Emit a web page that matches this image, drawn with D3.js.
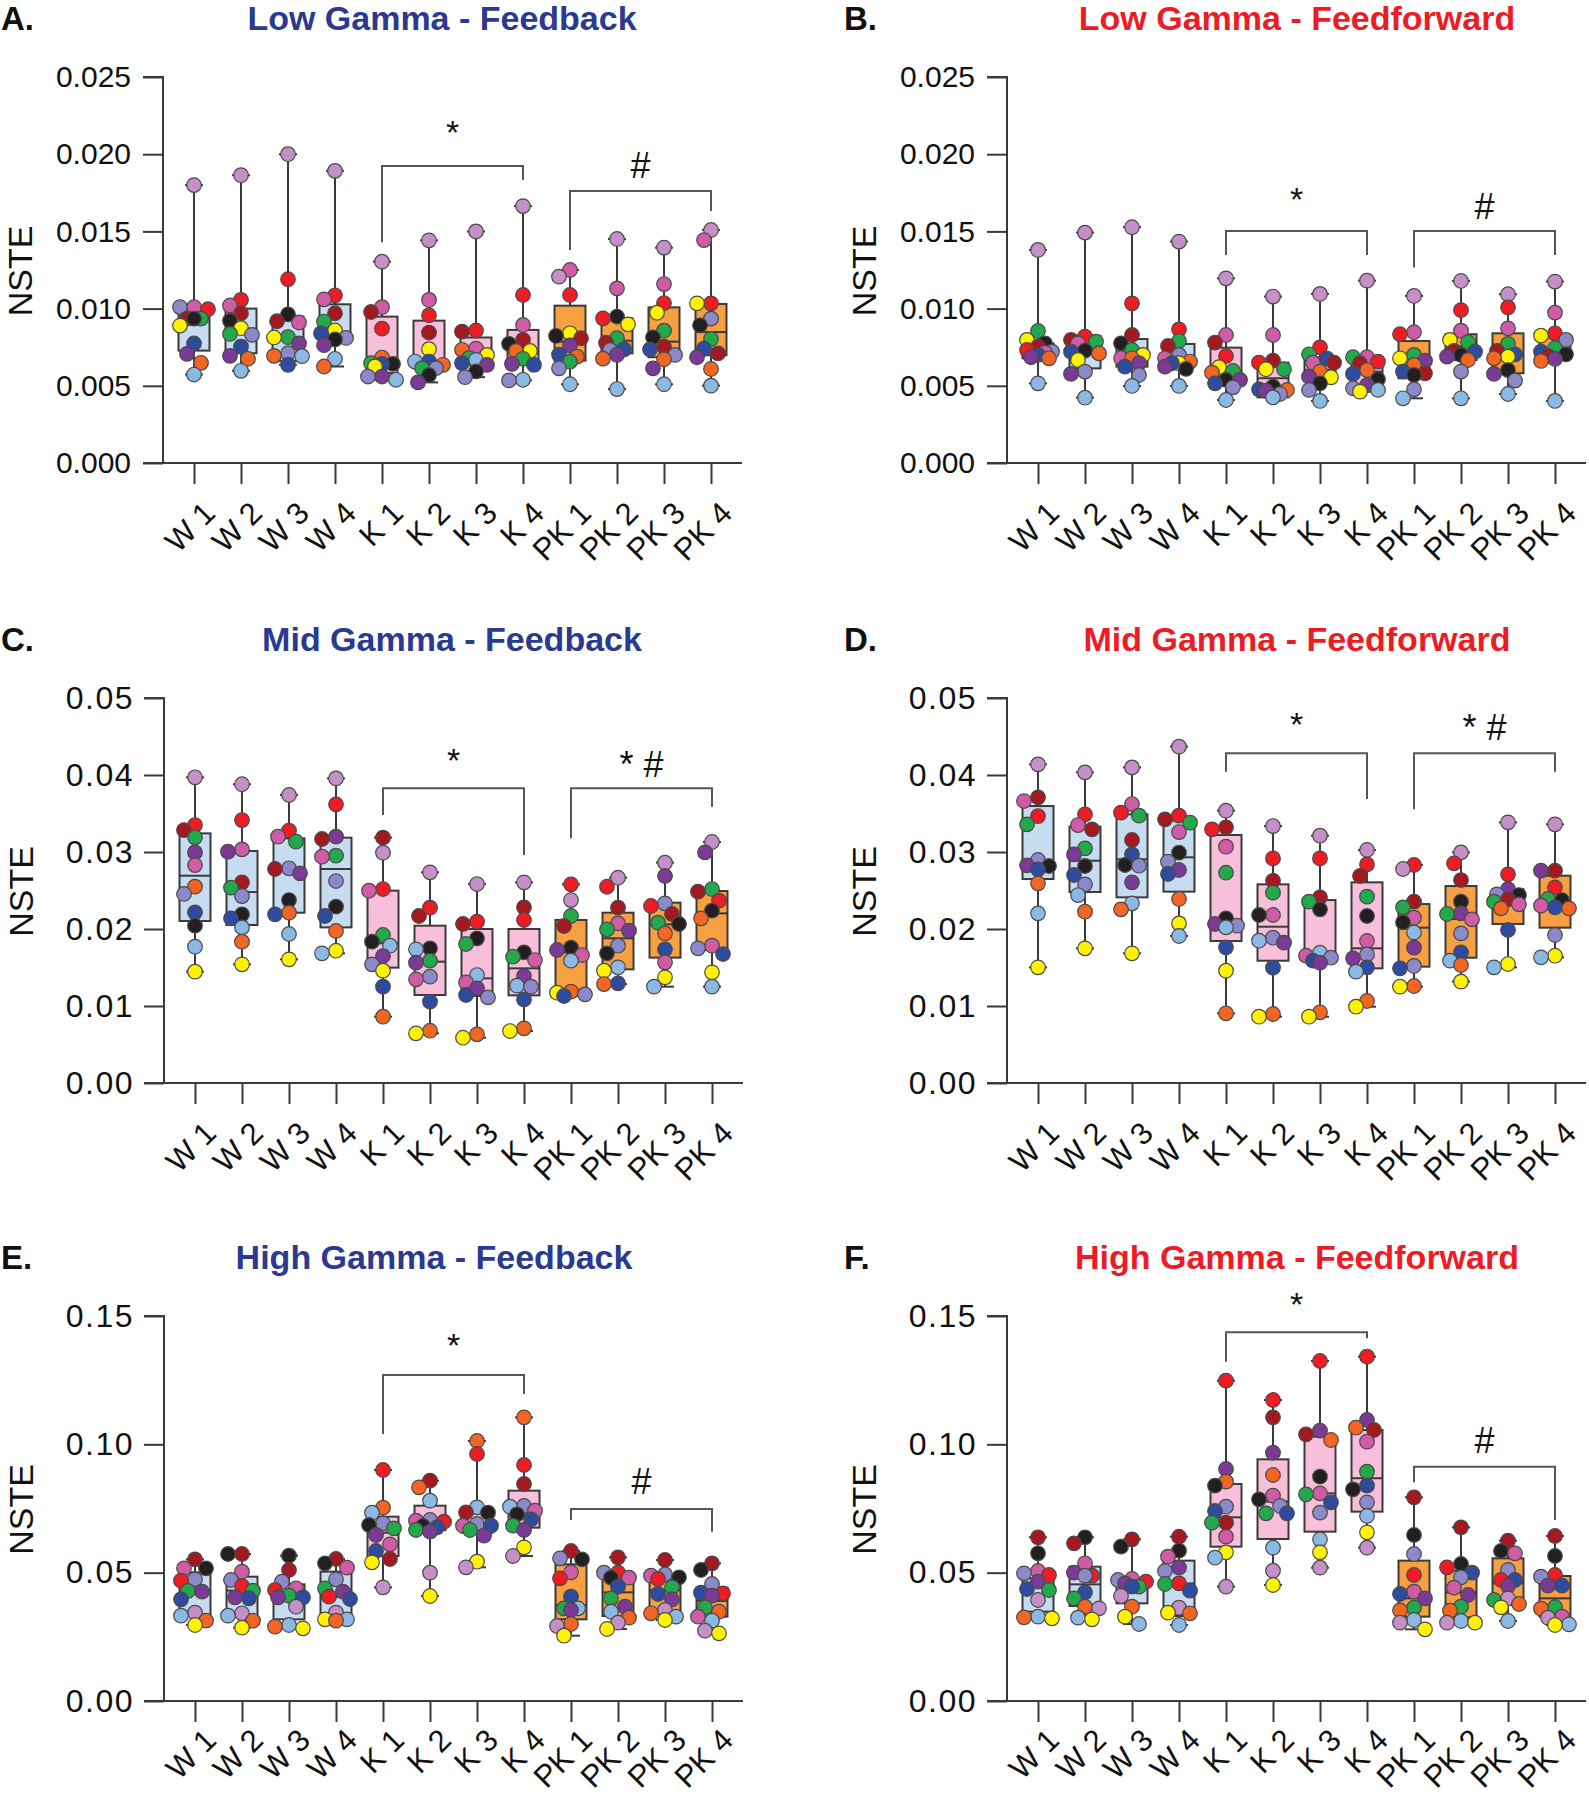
<!DOCTYPE html>
<html><head><meta charset="utf-8">
<script src="https://cdn.jsdelivr.net/npm/d3@7"></script>
<style>
html,body{margin:0;padding:0;background:#fff;}
svg{display:block;}
</style></head>
<body>
<svg id="c" width="1589" height="1800"></svg>
<script>
// ---------- data ----------
const groups = ["W 1","W 2","W 3","W 4","K 1","K 2","K 3","K 4","PK 1","PK 2","PK 3","PK 4"];
const subjects = ["lav","pink","red","dkred","green","yellow","black","dkblue","purple","orange","ltblue","peri"];
const subjectColors = ["#c590c8","#d15ca6","#ee1c25","#a3191f","#23a84b","#fff200","#231f20","#2e4b9f","#7b3a96","#f26522","#8cb9e4","#8b89c7"];
const groupFill = ["#c8dcf1","#c8dcf1","#c8dcf1","#c8dcf1","#f8bfdb","#f8bfdb","#f8bfdb","#f8bfdb","#f7a042","#f7a042","#f7a042","#f7a042"];

// values per group, subject order as in `subjects`
const lowFB = [
 [.0180,.0101,.00996,.00935,.00935,.0089,.00935,.00774,.00707,.00649,.00573,.0101],
 [.01864,.0102,.01056,.0097,.00836,.00873,.00922,.00754,.00694,.00675,.00597,.0083],
 [.0200,.0091,.0119,.00918,.00815,.00813,.00963,.00636,.00774,.00694,.00692,.00711],
 [.01892,.0106,.01086,.0097,.00916,.00858,.0080,.0084,.00763,.00625,.00675,.0081],
 [.01304,.01009,.0087,.00978,.00647,.00625,.00642,.00642,.0056,.00683,.00539,.0056],
 [.01442,.01056,.00957,.00845,.00614,.00737,.00569,.00657,.00522,.00636,.00657,.00614],
 [.0150,.00741,.00858,.00851,.00679,.0070,.00593,.00647,.00636,.00733,.00668,.00556],
 [.01664,.00894,.01088,.00797,.00675,.00726,.00772,.00636,.00642,.00726,.00539,.00535],
 [.01207,.0125,.01088,.00808,.00656,.0084,.00823,.00702,.00762,.00689,.0051,.00613],
 [.01451,.01131,.00937,.00779,.00808,.00898,.00948,.00736,.0070,.00676,.00479,.00732],
 [.01395,.01159,.01036,.00753,.00857,.00973,.00814,.00736,.00613,.00672,.0051,.0070],
 [.01509,.01444,.01034,.0071,.00803,.01034,.00892,.0074,.00685,.00609,.00501,.00935]
];
const lowFBBox = [[.00728,.0094,.0100],[.00711,.0087,.0100],[.0066,.0081,.00948],[.0082,.0084,.01028],
 [.00582,.0064,.00948],[.00614,.0065,.00922],[.00642,.0070,.00813],[.00636,.0072,.00862],
 [.00663,.00786,.01019],[.0071,.00792,.00937],[.00685,.00786,.01008],[.00698,.00848,.0103]];

const lowFF = [
 [.0138,.00715,.00732,.00754,.00855,.00797,.00775,.0070,.00685,.00678,.00516,.00721],
 [.01492,.00775,.00818,.00797,.00786,.00667,.00728,.00721,.00577,.0071,.00423,.00592],
 [.01527,.00678,.01034,.00829,.00732,.0070,.00775,.00624,.00646,.00678,.00499,.0057],
 [.01434,.00678,.00866,.00758,.0079,.00646,.00609,.00646,.00624,.00657,.00499,.0070],
 [.01196,.00829,.00693,.0078,.00596,.0062,.00538,.00516,.00538,.00585,.00408,.0049],
 [.01078,.00829,.0065,.00663,.00607,.00607,.00495,.00477,.00469,.00473,.00425,.00447],
 [.01095,.0065,.00749,.0065,.00704,.00555,.00516,.00676,.00559,.00592,.00402,.00473],
 [.01181,.00685,.00657,.00646,.00685,.00462,.00542,.00577,.00505,.00602,.00473,.00484],
 [.01082,.00847,.00834,.00581,.0070,.00678,.0057,.00592,.00663,.00635,.00419,.00477],
 [.01179,.00857,.0099,.00726,.00782,.00797,.0070,.00721,.00689,.00667,.00419,.00592],
 [.01093,.00872,.01008,.00726,.00771,.00689,.00602,.00704,.00577,.00678,.00447,.00534],
 [.01175,.00974,.0084,.00693,.00743,.00825,.00704,.00721,.00674,.00661,.00402,.00797]
];
const lowFFBox = [[.00678,.0073,.00775],[.00613,.0072,.00823],[.00624,.00689,.00803],[.00635,.0068,.00771],
 [.00505,.0059,.00747],[.00425,.00549,.0065],[.00531,.00603,.00685],[.00484,.00592,.00663],
 [.00549,.00635,.0079],[.00667,.00754,.00834],[.00581,.0070,.0084],[.00678,.00732,.00829]];

const midFB = [
 [.0397,.0283,.0335,.03285,.0319,.01446,.02043,.02216,.02995,.0255,.0177,.02455],
 [.0388,.03034,.03415,.02606,.02537,.01541,.0219,.02138,.03004,.01835,.02021,.02428],
 [.0374,.03199,.03277,.02779,.03134,.01606,.02376,.0219,.02723,.02212,.01935,.02788],
 [.03956,.02939,.03619,.03169,.02952,.01718,.0229,.02169,.03199,.01974,.01684,.02623],
 [.02991,.02498,.02519,.03186,.01922,.01459,.01835,.01251,.01649,.00861,.01783,.01541],
 [.02736,.01346,.02277,.02169,.01589,.00645,.01749,.01056,.01563,.00679,.01736,.01381],
 [.02584,.01307,.02095,.02065,.01805,.00588,.01879,.01143,.01229,.00632,.01402,.01112],
 [.02606,.01597,.02117,.02281,.0164,.00675,.01697,.01086,.01389,.0071,.01264,.01251],
 [.02376,.01662,.0258,.02039,.02169,.01173,.01757,.0113,.01727,.01186,.01589,.01151],
 [.02666,.02073,.02549,.02277,.01995,.01459,.01684,.01294,.01978,.01285,.01502,.01783],
 [.02861,.01567,.02299,.02195,.02082,.01372,.02065,.01736,.02688,.01943,.01251,.02333],
 [.0313,.01783,.02368,.02485,.02519,.01437,.02238,.01675,.02995,.02138,.01251,.01749]
];
const midFBBox = [[.02104,.02692,.03242],[.02052,.0248,.03013],[.02212,.02766,.03177],[.02021,.02779,.03186],
 [.01498,.01814,.02498],[.01143,.01576,.02043],[.0113,.01359,.0200],[.01138,.01489,.0200],
 [.01164,.01697,.02117],[.01476,.01879,.02212],[.01628,.0206,.02342],[.01727,.02203,.02493]];

const midFF = [
 [.04138,.03662,.03467,.0371,.03359,.01502,.02818,.02775,.02827,.02593,.02203,.02896],
 [.04034,.0335,.03489,.03294,.03047,.01749,.02818,.02701,.02969,.02225,.02441,.0258],
 [.04099,.03623,.03511,.03156,.03472,.01684,.02831,.02969,.02606,.02255,.02333,.02822],
 [.04368,.03259,.03472,.03424,.03381,.02073,.02991,.02714,.02766,.0239,.01909,.02874],
 [.03537,.03069,.03294,.0332,.02731,.01459,.02138,.01762,.02065,.00905,.02021,.02043],
 [.03337,.02182,.02917,.02627,.02472,.00861,.02182,.01498,.01822,.00896,.01848,.01887],
 [.03212,.01653,.02917,.02411,.02355,.00861,.02255,.01588,.01563,.00918,.01692,.01627],
 [.03026,.01844,.02839,.02688,.0242,.00991,.02169,.01502,.01619,.01065,.01446,.0167],
 [.02779,.02147,.02831,.02355,.02281,.01251,.02086,.01489,.01757,.0126,.01956,.0152],
 [.02995,.02125,.02853,.02636,.02195,.01316,.02355,.01697,.02203,.01532,.01589,.01943],
 [.03385,.0232,.0271,.02385,.02355,.01545,.02441,.01987,.02519,.02268,.01502,.0245],
 [.03359,.02303,.02541,.02757,.0239,.01653,.02376,.02281,.02757,.02268,.01632,.01922]
];
const midFFBox = [[.02649,.0281,.03597],[.0248,.02887,.03329],[.02411,.02905,.03489],[.02485,.02931,.03407],
 [.01844,.02065,.03221],[.01588,.0203,.0258],[.01588,.0164,.02376],[.01489,.01749,.02606],
 [.01511,.02017,.02324],[.01627,.0213,.02558],[.02065,.0231,.02515],[.02017,.02368,.02692]];

const highFB = [
 [.03442,.05169,.04688,.05519,.04286,.02961,.05169,.03961,.0426,.0313,.03325,.0474],
 [.03416,.05039,.0448,.05727,.04299,.02857,.05727,.040,.04039,.0313,.03325,.04714],
 [.03675,.0439,.04325,.05104,.04104,.02831,.05662,.04039,.04039,.02896,.02961,.04649],
 [.03442,.05195,.04065,.05532,.0439,.03182,.05364,.03974,.0426,.0313,.03182,.0474],
 [.04428,.06104,.090,.05532,.06727,.05402,.06857,.05844,.06467,.07532,.07338,.06922],
 [.050,.07026,.06987,.08584,.06662,.04091,.06818,.06766,.06597,.08324,.07805,.07052],
 [.05208,.06831,.09623,.07351,.06662,.05428,.07338,.06831,.06441,.1013,.07545,.06896],
 [.05649,.07415,.09195,.08454,.06831,.05987,.07273,.07078,.06662,.11052,.07571,.07597],
 [.02922,.05013,.04779,.05844,.0361,.02545,.05519,.04065,.03545,.030,.0361,.05558],
 [.03052,.04805,.050,.05597,.040,.02805,.04805,.04455,.03675,.03247,.03481,.050],
 [.03545,.04883,.04753,.05493,.04428,.03156,.04818,.04169,.03961,.03416,.03286,.04935],
 [.0274,.03286,.04195,.05364,.03649,.02636,.05104,.04221,.04104,.03481,.0313,.04558]
];
const highFBBox = [[.03325,.0426,.05013],[.03286,.0430,.04844],[.03182,.0410,.04545],[.03312,.0406,.05039],
 [.05649,.06558,.07182],[.06662,.0686,.0761],[.06558,.0692,.07441],[.06753,.0735,.08195],
 [.03182,.0374,.05325],[.03312,.04234,.0487],[.0339,.0432,.04714],[.03286,.039,.04415]];

const highFF = [
 [.03935,.05065,.04909,.06377,.04325,.03221,.05753,.04364,.04649,.0326,.03286,.04974],
 [.0361,.05364,.04883,.06143,.040,.03182,.06377,.04234,.050,.03675,.03247,.04883],
 [.04091,.04753,.04649,.06299,.04455,.03286,.06013,.04455,.04584,.03675,.030,.04714],
 [.03636,.05623,.04584,.064,.04558,.03442,.05857,.04299,.05195,.03416,.02961,.05065],
 [.04455,.06403,.12481,.06948,.06948,.05792,.0839,.07403,.09039,.08546,.05584,.07571],
 [.05078,.080,.11727,.11052,.07312,.04519,.07857,.07312,.09675,.08805,.05974,.07597],
 [.05195,.08091,.13247,.1039,.08052,.05792,.0874,.0774,.10532,.10169,.06299,.07338],
 [.05974,.10104,.13416,.10558,.08935,.06571,.08247,.0839,.10948,.10649,.07208,.0774],
 [.03052,.0426,.04909,.07935,.03636,.02792,.06468,.04169,.040,.03532,.03156,.05727],
 [.03052,.04416,.05208,.06766,.03675,.03052,.05338,.050,.0413,.03519,.03117,.04818],
 [.040,.05753,.04714,.06247,.03935,.03649,.05844,.04714,.04481,.03779,.03117,.05104],
 [.03247,.03286,.04909,.06429,.03662,.02961,.05649,.04494,.04494,.03597,.02987,.04844]
];
const highFFBox = [[.03481,.04494,.04779],[.037,.04545,.05234],[.03805,.0455,.04584],[.03312,.0458,.05468],
 [.06013,.07156,.08455],[.06312,.0777,.09416],[.06597,.0809,.10299],[.07377,.0868,.10558],
 [.03286,.040,.05468],[.0326,.0423,.05078],[.0374,.0459,.05558],[.03286,.040,.0487]];

// tick labels
const ticksLow = [0,.005,.010,.015,.020,.025];
const ticksMid = [0,.01,.02,.03,.04,.05];
const ticksHigh = [0,.05,.10,.15];

// significance annotations: [firstGroup, lastGroup, barValue, leftLegValue, rightLegValue, label, labelValue]
const sigLowFB  = [[4,7,.01924,.0143,.01833,"*",.0214],[8,11,.01762,.0138,.01632,"#",.0193]];
const sigLowFF  = [[4,7,.01503,.01347,.01347,"*",.0171],[8,11,.01503,.01267,.01347,"#",.0166]];
const sigMidFB  = [[4,7,.03827,.03481,.02961,"*",.0420],[8,11,.03827,.03178,.03589,"* #",.0414]];
const sigMidFF  = [[4,7,.04282,.04043,.03688,"*",.0466],[8,11,.04282,.03554,.04043,"* #",.0462]];
const sigHighFB = [[4,7,.12701,.10402,.11961,"*",.1385],[8,11,.0748,.07052,.06597,"#",.0855]];
const sigHighFF = [[4,7,.14364,.13221,.1413,"*",.1547],[8,11,.0913,.0852,.07052,"#",.1017]];

const panels = [
 {letter:"A.", title:"Low Gamma - Feedback", tcol:"#2b3990", data:lowFB, box:lowFBBox, ticks:ticksLow, fmt:".3f", max:.025, sig:sigLowFB, ax:163, top:77, bot:463, tx:442, tfs:30, tls:0, lab:52},
 {letter:"B.", title:"Low Gamma - Feedforward", tcol:"#ed1c24", data:lowFF, box:lowFFBox, ticks:ticksLow, fmt:".3f", max:.025, sig:sigLowFF, ax:1007, top:77, bot:463, tx:1297, tfs:30, tls:0, lab:52},
 {letter:"C.", title:"Mid Gamma - Feedback", tcol:"#2b3990", data:midFB, box:midFBBox, ticks:ticksMid, fmt:".2f", max:.05, sig:sigMidFB, ax:164, top:698, bot:1083, tx:452, tfs:32, tls:1.5, lab:52},
 {letter:"D.", title:"Mid Gamma - Feedforward", tcol:"#ed1c24", data:midFF, box:midFFBox, ticks:ticksMid, fmt:".2f", max:.05, sig:sigMidFF, ax:1007, top:698, bot:1083, tx:1297, tfs:32, tls:1.5, lab:52},
 {letter:"E.", title:"High Gamma - Feedback", tcol:"#2b3990", data:highFB, box:highFBBox, ticks:ticksHigh, fmt:".2f", max:.15, sig:sigHighFB, ax:164, top:1316, bot:1701, tx:434, tfs:32, tls:1.5, lab:41},
 {letter:"F.", title:"High Gamma - Feedforward", tcol:"#ed1c24", data:highFF, box:highFFBox, ticks:ticksHigh, fmt:".2f", max:.15, sig:sigHighFF, ax:1007, top:1316, bot:1701, tx:1297, tfs:32, tls:1.5, lab:41}
];

// ---------- drawing ----------
const svg = d3.select("#c");
const SANS = "'Liberation Sans',Arial,Helvetica,sans-serif";
const R = 7.3, BOXW = 31, LINE = "#3a3a3a";

panels.forEach(p => {
  const g = svg.append("g");
  const y = d3.scaleLinear().domain([0, p.max]).range([p.bot, p.top]);
  const x = d3.scalePoint().domain(groups).range([p.ax + 31, p.ax + 31 + 11*47]);

  // panel letter & title
  g.append("text").attr("x", p.ax > 500 ? 844 : 1).attr("y", p.top - 47)
    .attr("font-family", SANS).attr("font-weight", "bold").attr("font-size", 33).attr("fill", "#111").text(p.letter);
  g.append("text").attr("x", p.tx).attr("y", p.top - 47).attr("text-anchor", "middle")
    .attr("font-family", SANS).attr("font-weight", "bold").attr("font-size", 34).attr("fill", p.tcol).text(p.title);

  // y label
  g.append("text").attr("transform", `translate(${p.ax - 131},${(p.top + p.bot)/2 + 1}) rotate(-90)`)
    .attr("text-anchor", "middle").attr("font-family", SANS).attr("font-size", 34).attr("fill", "#111").text("NSTE");

  // y axis
  const yAxis = d3.axisLeft(y).tickValues(p.ticks).tickFormat(d3.format(p.fmt)).tickSize(20).tickPadding(p.tls ? 10 : 12);
  const ya = g.append("g").attr("transform", `translate(${p.ax},0)`).call(yAxis);
  ya.select(".domain").attr("stroke", LINE).attr("stroke-width", 2).attr("d", `M-20,${p.top}H0V${p.bot}`);
  ya.selectAll(".tick line").attr("stroke", LINE).attr("stroke-width", 2);
  ya.selectAll(".tick text").attr("font-family", SANS).attr("font-size", p.tfs).attr("letter-spacing", p.tls).attr("fill", "#111");

  // x axis
  const xAxis = d3.axisBottom(x).tickSize(21).tickFormat("");
  const xa = g.append("g").attr("transform", `translate(0,${p.bot})`).call(xAxis);
  xa.select(".domain").attr("stroke", LINE).attr("stroke-width", 2).attr("d", `M${p.ax-20},0H${p.ax + 31 + 11*47 + 31}`);
  xa.selectAll(".tick line").attr("stroke", LINE).attr("stroke-width", 2);
  groups.forEach(gr => {
    g.append("text").attr("transform", `translate(${x(gr) + 23},${p.bot + p.lab}) rotate(-45)`)
      .attr("text-anchor", "end").attr("font-family", SANS).attr("font-size", 31).attr("fill", "#111").text(gr);
  });

  // boxes
  groups.forEach((gr, i) => {
    const vals = p.data[i];
    const [q1, med, q3] = p.box[i];
    const lo = d3.min(vals), hi = d3.max(vals);
    const cx = x(gr);
    g.append("line").attr("x1", cx).attr("x2", cx).attr("y1", y(lo)).attr("y2", y(hi)).attr("stroke", LINE).attr("stroke-width", 2);
    [lo, hi].forEach(v => g.append("line").attr("x1", cx - 9).attr("x2", cx + 9).attr("y1", y(v)).attr("y2", y(v)).attr("stroke", LINE).attr("stroke-width", 2));
    g.append("rect").attr("x", cx - BOXW/2).attr("width", BOXW).attr("y", y(q3)).attr("height", y(q1) - y(q3))
      .attr("fill", groupFill[i]).attr("stroke", LINE).attr("stroke-width", 2);
    g.append("line").attr("x1", cx - BOXW/2).attr("x2", cx + BOXW/2).attr("y1", y(med)).attr("y2", y(med)).attr("stroke", LINE).attr("stroke-width", 2);
  });

  // dots (compact beeswarm offsets)
  groups.forEach((gr, i) => {
    const cx = x(gr);
    const pts = p.data[i].map((v, s) => ({v, s, py: y(v)}));
    pts.sort((a, b) => d3.descending(a.v, b.v));
    const placed = [];
    const cands = [0, -7, 7, -11, 11, -14, 14];
    pts.forEach(pt => {
      let best = 0, bestD = -1;
      for (const o of cands) {
        let mind = Infinity;
        placed.forEach(q => { mind = Math.min(mind, Math.hypot(q.px - (cx + o), q.py - pt.py)); });
        if (mind >= 2*R*0.8) { best = o; bestD = mind; break; }
        if (mind > bestD + 0.5) { bestD = mind; best = o; }
      }
      pt.px = cx + best;
      placed.push(pt);
    });
    g.selectAll(null).data(pts).enter().append("circle")
      .attr("cx", d => d.px).attr("cy", d => d.py).attr("r", R)
      .attr("fill", d => subjectColors[d.s]).attr("stroke", "#4a4a4a").attr("stroke-width", 1.2);
  });

  // significance brackets
  p.sig.forEach(([a, b, bar, l, r, lab, lv]) => {
    const xa_ = x(groups[a]), xb = x(groups[b]);
    g.append("path").attr("d", `M${xa_},${y(l)}V${y(bar)}H${xb}V${y(r)}`)
      .attr("fill", "none").attr("stroke", "#555").attr("stroke-width", 2);
    g.append("text").attr("x", (xa_ + xb)/2).attr("y", y(lv)).attr("dy", "0.35em").attr("text-anchor", "middle")
      .attr("font-family", SANS).attr("font-size", lab === "*" ? 34 : 36).attr("fill", "#111").text(lab);
  });
});
</script>
</body></html>
